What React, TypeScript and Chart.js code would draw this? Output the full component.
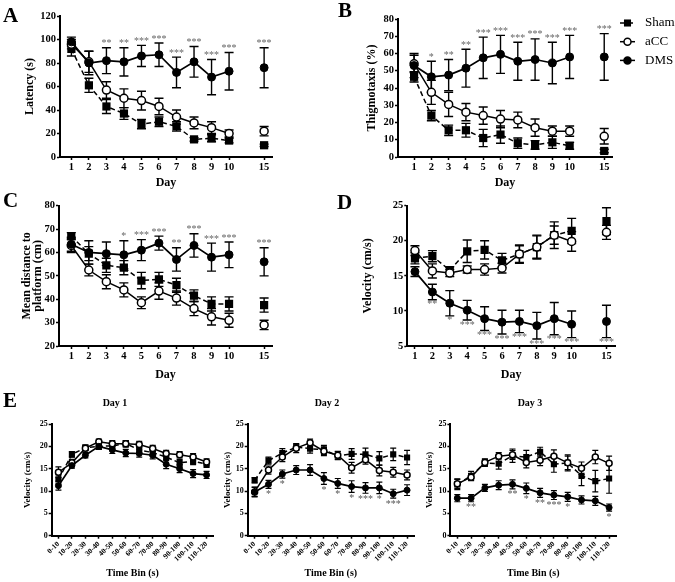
import React, { useEffect, useRef } from 'react';
import { Chart, registerables } from 'chart.js';

Chart.register(...registerables);

const SERIF = '"Liberation Serif", "Times New Roman", serif';

// ---------------- data ----------------
const dayLabels = ['1', '2', '3', '4', '5', '6', '7', '8', '9', '10', '15'];
const dayPos = [1, 2, 3, 4, 5, 6, 7, 8, 9, 10, 12]; // day 15 drawn after a gap

// A: Latency (s)
const latSham = [92, 61, 43, 37, 28, 30, 26, 15, 16, 14, 10];
const latShamErr = [6, 6, 6, 5, 4, 4, 4, 1.5, 3, 2, 1];
const latAcc = [96, 81, 57, 50, 48, 43, 34, 29, 25, 20, 22];
const latAccErr = [4, 9, 7, 8, 8, 7, 6, 5, 5, 3, 4];
const latDms = [98, 80, 82, 81, 86, 87, 72, 81, 68, 73, 76];
const latDmsErr = [4, 10, 11, 12, 9, 10, 13, 13, 15, 16, 17];
const latStars = ['', '', '**', '**', '***', '***', '***', '***', '***', '***', '***'];

// B: Thigmotaxis (%)
const thigSham = [46.5, 24, 15.5, 15.5, 11, 13, 8, 7, 8.5, 6.5, 3.5];
const thigShamErr = [3, 3, 3, 4, 5, 5, 3, 2.5, 3.5, 2, 1];
const thigAcc = [54, 37.5, 30.5, 26, 24, 22, 21.5, 17, 15, 15, 12];
const thigAccErr = [5, 7, 7, 5, 5, 5, 4.5, 5, 3, 3, 4.5];
const thigDms = [53, 46.5, 47.5, 51.5, 57.5, 59.5, 55.5, 56.5, 54.5, 58, 58];
const thigDmsErr = [7, 9, 9, 11, 12, 11, 11, 12, 12, 12.5, 13.5];
const thigStars = ['', '*', '**', '**', '***', '***', '***', '***', '***', '***', '***'];

// C: Mean distance to platform (cm)
const distSham = [67, 59.5, 54.5, 53.5, 48, 48.5, 46, 41.5, 38, 38, 37.5];
const distShamErr = [1.5, 3, 3, 3, 3.5, 3, 3, 2.5, 3, 3, 3];
const distAcc = [63, 52.5, 47.5, 44, 38.5, 43.5, 40.5, 36, 32.5, 31, 29];
const distAccErr = [3, 2.5, 3, 3, 2.5, 3.5, 3, 3, 3.5, 3, 2];
const distDms = [63.5, 60, 59.5, 59, 61, 64, 57, 63, 58, 59, 56];
const distDmsErr = [3, 5, 5, 6, 4.5, 3, 5, 5, 6, 5.5, 6];
const distStars = ['', '', '', '*', '***', '***', '**', '***', '***', '***', '***'];

// D: Velocity (cm/s)
const velSham = [17.5, 17.8, 15.8, 18.5, 18.7, 17.2, 18.1, 19.1, 20.8, 21.4, 22.8];
const velShamErr = [0.8, 0.8, 0.5, 1.6, 1.3, 1, 1.2, 1.7, 1.9, 1.8, 1.9];
const velAcc = [18.6, 15.7, 15.4, 15.9, 15.9, 16.1, 18.1, 19.1, 20.8, 19.9, 21.2];
const velAccErr = [0.7, 1, 0.5, 0.5, 0.8, 0.7, 1.3, 1.6, 1.3, 1.4, 1];
const velDms = [15.6, 12.7, 11.1, 10.1, 8.9, 8.4, 8.5, 7.9, 8.9, 8.1, 8.5];
const velDmsErr = [0.7, 1.1, 1.8, 1.4, 1.7, 1.7, 1.6, 1.9, 2.3, 1.9, 2.3];
const velStars = ['', '**', '*', '***', '***', '***', '***', '***', '***', '***', '***'];

// E: velocity per time bin
const binLabels = ['0-10', '10-20', '20-30', '30-40', '40-50', '50-60', '60-70', '70-80', '80-90', '90-100', '100-110', '110-120'];

const d1Sham = [12.6, 18.2, 19.7, 20.0, 20.1, 20.6, 19.2, 18.6, 17.6, 16.3, 16.7, 16.0];
const d1ShamErr = [1, 0.6, 0.6, 0.7, 0.7, 0.7, 0.8, 0.8, 0.8, 0.8, 0.8, 0.7];
const d1Acc = [14.2, 16.3, 19.6, 21.0, 20.6, 20.6, 20.4, 19.5, 18.4, 18.1, 17.6, 16.5];
const d1AccErr = [1.2, 0.8, 0.6, 0.6, 0.7, 0.7, 0.7, 0.7, 0.7, 0.7, 0.8, 0.7];
const d1Dms = [11.2, 15.7, 18.0, 20.0, 19.2, 18.5, 18.4, 18.0, 16.0, 15.0, 13.9, 13.6];
const d1DmsErr = [1, 0.6, 0.6, 0.7, 0.8, 0.8, 0.8, 0.8, 1, 0.9, 0.9, 0.8];
const d1Stars = ['', '', '', '', '', '', '', '', '', '', '', ''];

const d2Sham = [12.4, 16.8, 18.5, 19.8, 19.5, 19.2, 17.9, 18.3, 18.2, 17.3, 18.2, 17.5];
const d2ShamErr = [0.6, 0.8, 1, 0.7, 1, 1, 0.9, 1.2, 1.4, 1.5, 1.4, 1.6];
const d2Acc = [9.8, 14.7, 17.6, 19.6, 20.8, 18.9, 18.0, 15.2, 17.0, 14.6, 14.2, 13.6];
const d2AccErr = [1, 0.9, 1, 1, 0.8, 1, 0.9, 1.2, 1, 1.2, 1.1, 1.1];
const d2Dms = [9.8, 11.5, 13.8, 14.7, 14.7, 12.8, 11.7, 11.0, 10.7, 10.7, 9.4, 10.2];
const d2DmsErr = [1.1, 0.9, 0.9, 1, 1.2, 1.3, 1.1, 1.3, 1.2, 1.3, 1, 1.2];
const d2Stars = ['', '*', '*', '', '', '*', '*', '*', '***', '*', '***', ''];

const d3Sham = [11.5, 13.4, 16.3, 16.1, 17.9, 17.6, 18.8, 16.0, 16.3, 13.4, 12.2, 12.8];
const d3ShamErr = [1.2, 1, 0.8, 1.2, 1.5, 1.5, 1, 1.8, 1.8, 2.2, 2.4, 3.3];
const d3Acc = [11.6, 13.1, 16.4, 17.8, 18.1, 16.4, 16.9, 17.8, 16.3, 15.1, 17.6, 16.2];
const d3AccErr = [1, 0.8, 0.8, 0.8, 1, 1.2, 1.2, 1.4, 1.5, 1.4, 1.5, 1.6];
const d3Dms = [8.4, 8.4, 10.7, 11.3, 11.5, 10.6, 9.6, 9.1, 8.7, 8.0, 7.8, 6.3];
const d3DmsErr = [0.8, 0.8, 0.8, 1, 1, 1.2, 1, 1, 1, 0.9, 1, 0.8];
const d3Stars = ['', '**', '', '', '**', '*', '**', '***', '*', '', '', '*'];

const groupNames = ['Sham', 'aCC', 'DMS'];

// ---------------- plugins ----------------
const yOf = (d: any) => (d == null ? null : typeof d === 'number' ? d : d.y);

const errorBarsPlugin = {
  id: 'errorBars',
  beforeDatasetsDraw(chart: any, _a: any, opts: any) {
    const ys = chart.scales.y;
    const ctx = chart.ctx;
    const cap = opts.cap ?? 4;
    ctx.save();
    ctx.strokeStyle = '#000';
    ctx.lineWidth = opts.width ?? 1.3;
    ctx.setLineDash([]);
    chart.data.datasets.forEach((ds: any, di: number) => {
      const errs = ds.errors;
      if (!errs) return;
      const meta = chart.getDatasetMeta(di);
      meta.data.forEach((el: any, i: number) => {
        const v = yOf(ds.data[i]);
        const e = errs[i];
        if (v == null || e == null) return;
        const x = el.x;
        const t = ys.getPixelForValue(v + e);
        const b = ys.getPixelForValue(v - e);
        ctx.beginPath();
        ctx.moveTo(x, t);
        ctx.lineTo(x, b);
        ctx.moveTo(x - cap, t);
        ctx.lineTo(x + cap, t);
        ctx.moveTo(x - cap, b);
        ctx.lineTo(x + cap, b);
        ctx.stroke();
      });
    });
    ctx.restore();
  },
};

const starsPlugin = {
  id: 'stars',
  afterDatasetsDraw(chart: any, _a: any, opts: any) {
    if (!opts || !opts.labels) return;
    const ds = chart.data.datasets[opts.dataset];
    const meta = chart.getDatasetMeta(opts.dataset);
    const ys = chart.scales.y;
    const ctx = chart.ctx;
    ctx.save();
    ctx.font = `${opts.size}px ${SERIF}`;
    ctx.fillStyle = opts.color;
    ctx.textAlign = 'center';
    ctx.textBaseline = 'middle';
    opts.labels.forEach((s: string, i: number) => {
      if (!s) return;
      const v = yOf(ds.data[i]);
      const e = ds.errors[i];
      const x = meta.data[i].x;
      const y = opts.dir === 'up' ? ys.getPixelForValue(v + e) - opts.gap : ys.getPixelForValue(v - e) + opts.gap;
      ctx.fillText(s, x, y);
    });
    ctx.restore();
  },
};

function drawMarker(ctx: any, kind: number, x: number, y: number, r: number) {
  ctx.beginPath();
  if (kind === 0) {
    const s = r * Math.SQRT1_2;
    ctx.rect(x - s, y - s, 2 * s, 2 * s);
    ctx.fillStyle = '#000';
    ctx.fill();
  } else {
    ctx.arc(x, y, r, 0, Math.PI * 2);
    ctx.fillStyle = kind === 1 ? '#fff' : '#000';
    ctx.fill();
    ctx.lineWidth = 1.5;
    ctx.strokeStyle = '#000';
    ctx.stroke();
  }
}

const sideLegendPlugin = {
  id: 'sideLegend',
  afterDraw(chart: any, _a: any, opts: any) {
    if (!opts || !opts.items) return;
    const ctx = chart.ctx;
    ctx.save();
    opts.items.forEach((label: string, i: number) => {
      const y = opts.y0 + i * opts.dy;
      ctx.strokeStyle = '#000';
      ctx.lineWidth = 1.5;
      ctx.setLineDash(i === 0 ? [5, 3] : []);
      ctx.beginPath();
      ctx.moveTo(opts.x0, y);
      ctx.lineTo(opts.x0 + opts.len, y);
      ctx.stroke();
      ctx.setLineDash([]);
      drawMarker(ctx, i, opts.x0 + opts.len / 2, y, i === 0 ? 5 : 3.5);
      ctx.fillStyle = '#000';
      ctx.font = `13px ${SERIF}`;
      ctx.textAlign = 'left';
      ctx.textBaseline = 'middle';
      ctx.fillText(label, opts.textX, y);
    });
    ctx.restore();
  },
};

// ---------------- config builders ----------------
function seriesStyle(kind: number, r: number) {
  const base: any = { borderColor: '#000', tension: 0, fill: false, pointBorderColor: '#000' };
  if (kind === 0)
    return { ...base, borderWidth: 1.5, borderDash: [5, 3], pointStyle: 'rect', pointRadius: r * 1.45, pointBackgroundColor: '#000', pointBorderWidth: 0 };
  if (kind === 1)
    return { ...base, borderWidth: 1.5, pointStyle: 'circle', pointRadius: r, pointBackgroundColor: '#fff', pointBorderWidth: 1.5 };
  return { ...base, borderWidth: 1.7, pointStyle: 'circle', pointRadius: r, pointBackgroundColor: '#000', pointBorderWidth: 1 };
}

const gapSegment = {
  borderColor: (c: any) => (c.p1.parsed.x - c.p0.parsed.x > 1 ? 'rgba(0,0,0,0)' : undefined),
};

function axisCommon(fontSize: number) {
  return {
    grid: { display: true, drawOnChartArea: false, drawTicks: true, tickLength: 3, tickWidth: 1.5, tickColor: '#000', color: '#000', offset: false },
    border: { display: true, color: '#000', width: 2 },
    ticks: { color: '#000', font: { family: SERIF, size: fontSize, weight: 'bold' }, padding: 1 },
  };
}

function dayChart(p: any) {
  const series = [
    [p.sham, p.shamErr],
    [p.acc, p.accErr],
    [p.dms, p.dmsErr],
  ];
  const datasets = series
    .map((s: any, k: number) => ({
      label: groupNames[k],
      data: s[0].map((v: number, i: number) => ({ x: dayPos[i], y: v })),
      errors: s[1],
      segment: gapSegment,
      ...seriesStyle(k, 4),
    }))
    .reverse();
  const xc = axisCommon(10.5);
  const yc = axisCommon(10.5);
  return {
    type: 'line',
    data: { datasets },
    options: {
      animation: false,
      responsive: false,
      events: [],
      layout: { padding: { left: p.padL, top: p.padT, right: p.padR, bottom: 0 } },
      plugins: {
        legend: { display: false },
        tooltip: { enabled: false },
        errorBars: { cap: 4.5, width: 1.4 },
        stars: { dataset: 0, labels: p.stars, dir: p.dir, gap: p.gap, size: 10, color: '#666' },
        sideLegend: p.legend || {},
      },
      scales: {
        x: {
          type: 'linear',
          min: p.xMin,
          max: p.xMax,
          ...xc,
          afterBuildTicks: (s: any) => {
            s.ticks = dayPos.map((v) => ({ value: v }));
          },
          afterFit: (s: any) => {
            s.height = p.xH;
          },
          ticks: { ...xc.ticks, autoSkip: false, maxRotation: 0, callback: (_v: any, i: number) => dayLabels[i] },
          title: { display: true, text: 'Day', color: '#000', font: { family: SERIF, size: 12, weight: 'bold' }, padding: { top: 0, bottom: 3 } },
        },
        y: {
          type: 'linear',
          min: p.yMin,
          max: p.yMax,
          ...yc,
          afterFit: (s: any) => {
            s.width = p.yW;
          },
          ticks: { ...yc.ticks, stepSize: p.step },
          title: {
            display: true,
            text: p.yTitle,
            color: '#000',
            font: { family: SERIF, size: 12, weight: 'bold', lineHeight: p.titleLH || 1.2 },
            padding: { top: 4, bottom: 0 },
          },
        },
      },
    },
    plugins: [errorBarsPlugin, starsPlugin, sideLegendPlugin],
  };
}

function binChart(p: any) {
  const series = [
    [p.sham, p.shamErr],
    [p.acc, p.accErr],
    [p.dms, p.dmsErr],
  ];
  const datasets = series
    .map((s: any, k: number) => ({
      label: groupNames[k],
      data: s[0],
      errors: s[1],
      ...seriesStyle(k, 3),
    }))
    .reverse();
  const xc = axisCommon(8);
  const yc = axisCommon(8);
  return {
    type: 'line',
    data: { labels: binLabels, datasets },
    options: {
      animation: false,
      responsive: false,
      events: [],
      layout: { padding: { left: p.padL, top: 29, right: p.padR, bottom: 0 } },
      plugins: {
        legend: { display: false },
        tooltip: { enabled: false },
        errorBars: { cap: 3, width: 1.2 },
        stars: { dataset: 0, labels: p.stars, dir: 'down', gap: 6, size: 10, color: '#555' },
      },
      scales: {
        x: {
          type: 'category',
          offset: true,
          ...xc,
          afterFit: (s: any) => {
            s.height = 46.3;
          },
          ticks: { ...xc.ticks, autoSkip: false, minRotation: 45, maxRotation: 45, font: { family: SERIF, size: 7.5, weight: 'bold' } },
          title: { display: true, text: 'Time Bin (s)', color: '#000', font: { family: SERIF, size: 10, weight: 'bold' }, padding: { top: 0, bottom: 3 } },
        },
        y: {
          type: 'linear',
          min: 0,
          max: 25,
          ...yc,
          afterFit: (s: any) => {
            s.width = p.yW;
          },
          ticks: { ...yc.ticks, stepSize: 5 },
          title: { display: true, text: 'Velocity (cm/s)', color: '#000', font: { family: SERIF, size: 9, weight: 'bold' }, padding: { top: 4, bottom: 0 } },
        },
      },
    },
    plugins: [errorBarsPlugin, starsPlugin],
  };
}

// ---------------- components ----------------
function ChartCanvas(props: { left: number; top: number; width: number; height: number; make: () => any }) {
  const ref = useRef<HTMLCanvasElement>(null);
  useEffect(() => {
    const c = new Chart(ref.current as HTMLCanvasElement, props.make());
    return () => c.destroy();
  }, []);
  return (
    <canvas
      ref={ref}
      width={props.width}
      height={props.height}
      style={{ position: 'absolute', left: props.left, top: props.top, width: props.width, height: props.height }}
    />
  );
}

const letterStyle = (left: number, top: number): any => ({
  position: 'absolute',
  left,
  top,
  fontFamily: SERIF,
  fontWeight: 'bold',
  fontSize: 21,
  lineHeight: '22px',
  color: '#000',
});

const dayTitleStyle = (cx: number): any => ({
  position: 'absolute',
  left: cx - 30,
  width: 60,
  top: 396,
  textAlign: 'center',
  fontFamily: SERIF,
  fontWeight: 'bold',
  fontSize: 10,
  lineHeight: '14px',
  color: '#000',
});

export default function App() {
  return (
    <div style={{ position: 'absolute', left: 0, top: 0, width: 675, height: 582, background: '#fff', overflow: 'hidden' }}>
      <ChartCanvas
        left={0}
        top={0}
        width={290}
        height={193}
        make={() =>
          dayChart({
            sham: latSham, shamErr: latShamErr, acc: latAcc, accErr: latAccErr, dms: latDms, dmsErr: latDmsErr,
            stars: latStars, dir: 'up', gap: 4,
            yMin: 0, yMax: 120, step: 20, yTitle: 'Latency (s)',
            padL: 19, padT: 16, padR: 18, yW: 41, xH: 36, xMin: 0.35, xMax: 12.45,
          })
        }
      />
      <ChartCanvas
        left={335}
        top={0}
        width={340}
        height={193}
        make={() =>
          dayChart({
            sham: thigSham, shamErr: thigShamErr, acc: thigAcc, accErr: thigAccErr, dms: thigDms, dmsErr: thigDmsErr,
            stars: thigStars, dir: 'up', gap: 4,
            yMin: 0, yMax: 80, step: 10, yTitle: 'Thigmotaxis (%)',
            padL: 25.5, padT: 19, padR: 63, yW: 37.5, xH: 36, xMin: 0.07, xMax: 12.45,
            legend: { items: groupNames, x0: 285, len: 15, y0: 23, dy: 18.7, textX: 310 },
          })
        }
      />
      <ChartCanvas
        left={0}
        top={190}
        width={290}
        height={195}
        make={() =>
          dayChart({
            sham: distSham, shamErr: distShamErr, acc: distAcc, accErr: distAccErr, dms: distDms, dmsErr: distDmsErr,
            stars: distStars, dir: 'up', gap: 4,
            yMin: 20, yMax: 80, step: 10, yTitle: ['Mean distance to', 'platform (cm)'], titleLH: 0.9,
            padL: 18, padT: 15.7, padR: 18, yW: 41, xH: 39, xMin: 0.3, xMax: 12.45,
          })
        }
      />
      <ChartCanvas
        left={335}
        top={190}
        width={340}
        height={195}
        make={() =>
          dayChart({
            sham: velSham, shamErr: velShamErr, acc: velAcc, accErr: velAccErr, dms: velDms, dmsErr: velDmsErr,
            stars: velStars, dir: 'down', gap: 5,
            yMin: 5, yMax: 25, step: 5, yTitle: 'Velocity (cm/s)',
            padL: 22, padT: 15.7, padR: 60, yW: 50.3, xH: 39, xMin: 0.56, xMax: 12.49,
          })
        }
      />
      <ChartCanvas
        left={0}
        top={395}
        width={225}
        height={187}
        make={() =>
          binChart({ sham: d1Sham, shamErr: d1ShamErr, acc: d1Acc, accErr: d1AccErr, dms: d1Dms, dmsErr: d1DmsErr, stars: d1Stars, padL: 18.6, padR: 11.7, yW: 33.1 })
        }
      />
      <ChartCanvas
        left={200}
        top={395}
        width={225}
        height={187}
        make={() =>
          binChart({ sham: d2Sham, shamErr: d2ShamErr, acc: d2Acc, accErr: d2AccErr, dms: d2Dms, dmsErr: d2DmsErr, stars: d2Stars, padL: 18.6, padR: 11, yW: 29.1 })
        }
      />
      <ChartCanvas
        left={403}
        top={395}
        width={225}
        height={187}
        make={() =>
          binChart({ sham: d3Sham, shamErr: d3ShamErr, acc: d3Acc, accErr: d3AccErr, dms: d3Dms, dmsErr: d3DmsErr, stars: d3Stars, padL: 17.6, padR: 12, yW: 29.8 })
        }
      />
      <div style={letterStyle(3, 4)}>A</div>
      <div style={letterStyle(338, -1)}>B</div>
      <div style={letterStyle(3, 189)}>C</div>
      <div style={letterStyle(337, 191)}>D</div>
      <div style={letterStyle(3, 389)}>E</div>
      <div style={dayTitleStyle(115)}>Day 1</div>
      <div style={dayTitleStyle(327)}>Day 2</div>
      <div style={dayTitleStyle(530)}>Day 3</div>
    </div>
  );
}
